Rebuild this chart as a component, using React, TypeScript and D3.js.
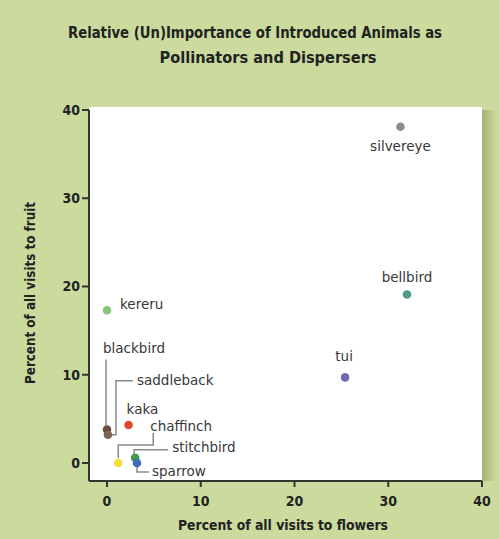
import React from "react";
import * as d3 from "d3";

const birds = ["silvereye", "bellbird", "tui", "kereru", "blackbird", "saddleback", "kaka", "chaffinch", "stitchbird", "sparrow"];
const flowerPct = [31.3, 32.0, 25.4, 0.0, 0.0, 0.1, 2.3, 1.2, 3.0, 3.2];
const fruitPct = [38.1, 19.1, 9.7, 17.3, 3.8, 3.2, 4.3, 0.0, 0.6, 0.0];
const birdColors = ["#8c8c98", "#4f9a8a", "#6c6ab4", "#86c47a", "#6b4d3a", "#7a6452", "#e0462e", "#f2e03c", "#3f9c4c", "#3d6cc0"];
const xTicks = [0, 10, 20, 30, 40];
const yTicks = [0, 10, 20, 30, 40];
const titleLines = ["Relative (Un)Importance of Introduced Animals as", "Pollinators and Dispersers"];
const xTitle = "Percent of all visits to flowers";
const yTitle = "Percent of all visits to fruit";

// label layout (pixel offsets relative to the point)
type Layout = { dx: number; dy: number; anchor: string; leader?: [number, number][] };
const layout: Record<string, Layout> = {
  silvereye: { dx: 0, dy: 24, anchor: "middle" },
  bellbird: { dx: 0, dy: -12, anchor: "middle" },
  tui: { dx: -1, dy: -16, anchor: "middle" },
  kereru: { dx: 13, dy: -1, anchor: "start" },
  blackbird: { dx: -4, dy: -76, anchor: "start", leader: [[-1, -70], [-1, -4]] },
  saddleback: { dx: 29, dy: -50, anchor: "start", leader: [[25, -54], [8, -54], [8, 0], [3, 0]] },
  kaka: { dx: -2, dy: -11, anchor: "start" },
  chaffinch: { dx: 32, dy: -32, anchor: "start", leader: [[35, -30], [35, -18], [0, -18], [0, -5]] },
  stitchbird: { dx: 37, dy: -6, anchor: "start", leader: [[33, -8], [-1, -8], [-1, -4]] },
  sparrow: { dx: 15, dy: 13, anchor: "start", leader: [[12, 9], [0, 9], [0, 3]] },
};

const W = 499, H = 539;
const BG = "#cbdb9e";
const narrow = "'DejaVu Sans Condensed', 'Liberation Sans Narrow', sans-serif";

export default function App() {
  const x = d3.scaleLinear().domain([0, 40]).range([107, 482]);
  const y = d3.scaleLinear().domain([0, 40]).range([463, 110]);
  const left = 89, top = 107, right = 482, bottom = 481;
  const line = d3.line();
  const titleX = [255, 268];
  const titleLen = [374, 217];

  return (
    <svg width={W} height={H} style={{ position: "absolute", left: 0, top: 0, display: "block" }}>
      <defs>
        <linearGradient id="shadow" x1="0" x2="1" y1="0" y2="0">
          <stop offset="0" stopColor="#9fb46e" />
          <stop offset="1" stopColor={BG} />
        </linearGradient>
      </defs>
      <rect x={0} y={0} width={W} height={H} fill={BG} />
      {titleLines.map((t, i) => (
        <text key={i} x={titleX[i]} y={38 + i * 25} textAnchor="middle" textLength={titleLen[i]}
          lengthAdjust="spacingAndGlyphs"
          fontFamily={narrow} fontWeight="bold" fontSize={16} fill="#222">{t}</text>
      ))}
      <rect x={right} y={top + 3} width={15} height={bottom - top - 3} fill="url(#shadow)" />
      <rect x={left} y={top} width={right - left} height={bottom - top} fill="#fff" />

      {/* y axis */}
      <line x1={left} x2={left} y1={y(40)} y2={bottom} stroke="#333" strokeWidth={2} />
      {yTicks.map((t) => (
        <g key={t}>
          <line x1={left - 7} x2={left} y1={y(t)} y2={y(t)} stroke="#333" strokeWidth={2} />
          <text x={left - 9} y={y(t)} dy="0.35em" textAnchor="end" fontFamily={narrow}
            fontWeight="bold" fontSize={14} fill="#222">{t}</text>
        </g>
      ))}
      {/* x axis */}
      <line x1={left} x2={right} y1={bottom} y2={bottom} stroke="#333" strokeWidth={2} />
      {xTicks.map((t) => (
        <g key={t}>
          <line x1={x(t)} x2={x(t)} y1={bottom} y2={bottom + 6} stroke="#333" strokeWidth={2} />
          <text x={x(t)} y={bottom + 20} dy="0.35em" textAnchor="middle" fontFamily={narrow}
            fontWeight="bold" fontSize={14} fill="#222">{t}</text>
        </g>
      ))}
      <text x={283} y={525} dy="0.35em" textAnchor="middle" textLength={210} lengthAdjust="spacingAndGlyphs"
        fontFamily={narrow} fontWeight="bold" fontSize={14} fill="#222">{xTitle}</text>
      <text transform={`translate(30,293) rotate(-90)`} dy="0.35em" textAnchor="middle" textLength={182}
        lengthAdjust="spacingAndGlyphs"
        fontFamily={narrow} fontWeight="bold" fontSize={14} fill="#222">{yTitle}</text>

      {/* leaders */}
      {birds.map((b, i) => {
        const L = layout[b];
        if (!L.leader) return null;
        const px = x(flowerPct[i]), py = y(fruitPct[i]);
        return <path key={"l" + b} d={line(L.leader.map(([a, c]) => [px + a, py + c]) as [number, number][]) || ""}
          fill="none" stroke="#8a8a8a" strokeWidth={1.5} />;
      })}
      {/* points */}
      {birds.map((b, i) => (
        <circle key={"p" + b} cx={x(flowerPct[i])} cy={y(fruitPct[i])} r={4.3} fill={birdColors[i]} />
      ))}
      {/* labels */}
      {birds.map((b, i) => {
        const L = layout[b];
        return <text key={"t" + b} x={x(flowerPct[i]) + L.dx} y={y(fruitPct[i]) + L.dy} textAnchor={L.anchor}
          fontFamily="'DejaVu Sans', sans-serif" fontSize={13.5} fill="#383838">{b}</text>;
      })}
    </svg>
  );
}
